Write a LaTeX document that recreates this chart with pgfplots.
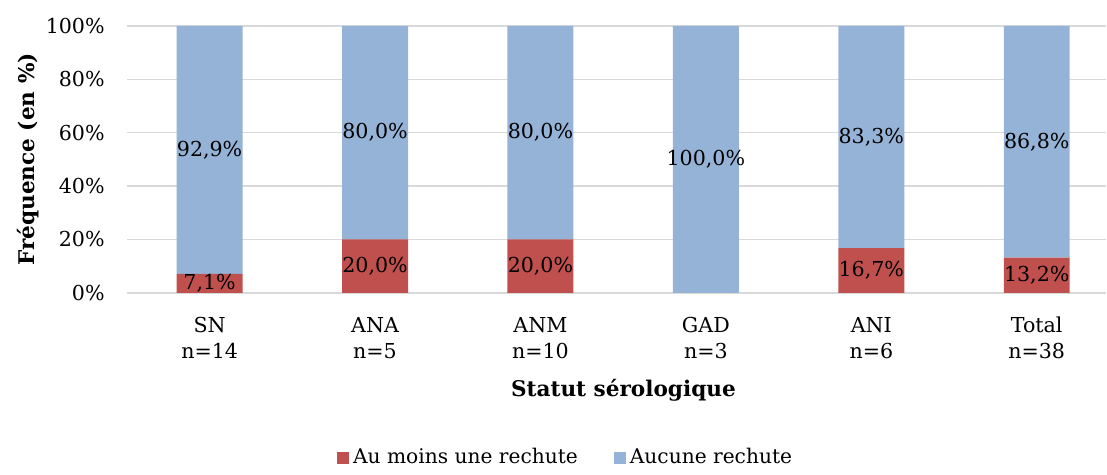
\documentclass[border=0pt]{standalone}
\usepackage{fontspec}
\setmainfont{DejaVu Serif}
\usepackage{pgfplots}
\pgfplotsset{compat=1.18}

\definecolor{redbar}{RGB}{192,80,77}
\definecolor{bluebar}{RGB}{149,179,215}
\definecolor{gridgray}{RGB}{217,217,217}

\begin{document}
\fontsize{10.3}{13}\selectfont
\begin{tikzpicture}
\begin{axis}[
  width=490pt, height=133.5pt, scale only axis,
  ybar stacked, bar width=33pt,
  xmin=-0.5, xmax=5.42, ymin=0, ymax=100,
  xtick={0,1,2,3,4,5},
  xticklabels={{SN\\n=14},{ANA\\n=5},{ANM\\n=10},{GAD\\n=3},{ANI\\n=6},{Total\\n=38}},
  xticklabel style={align=center, yshift=-8.5pt},
  ytick={0,20,40,60,80,100},
  yticklabel={\pgfmathprintnumber{\tick}\%},
  yticklabel style={xshift=-7.5pt},
  /pgf/number format/assume math mode=true,
  ymajorgrids, grid style={gridgray, line width=0.8pt},
  axis line style={draw=none},
  tick style={draw=none},
  xlabel={\bfseries Statut sérologique},
  every axis x label/.style={at={(rel axis cs:0.507,0)}, yshift=-49pt, anchor=center,
    font=\fontsize{10.8}{13}\selectfont},
  ylabel={\bfseries Fréquence (en \%)},
  every axis y label/.style={at={(rel axis cs:0,0.5)}, xshift=-49.5pt, rotate=90, anchor=center,
    font=\fontsize{10.8}{13}\selectfont},
  legend style={at={(rel axis cs:0.449,-0.618)}, anchor=center, draw=none, fill=none,
    legend columns=2, /tikz/every even column/.append style={column sep=16pt},
    font=\fontsize{10.1}{13}\selectfont},
  legend image code/.code={\fill[#1] (-3.5pt,-3pt) rectangle (2.5pt,3pt);},
  nodes near coords={\pgfmathfloatifflags{\pgfplotspointmeta}{0}{}{\pgfmathprintnumber[fixed,fixed zerofill,precision=1,use comma]{\pgfplotspointmeta}\%}},
  every node near coord/.append style={text=black, inner sep=0pt},
  clip=false,
]
\addplot[fill=redbar, draw=none] coordinates {(0,7.1) (1,20) (2,20) (3,0) (4,16.7) (5,13.2)};
\addlegendentry{Au moins une rechute}
\addplot[fill=bluebar, draw=none] coordinates {(0,92.9) (1,80) (2,80) (3,100) (4,83.3) (5,86.8)};
\addlegendentry{Aucune rechute}

\coordinate (ll) at (rel axis cs:0,0);
\coordinate (ur) at (rel axis cs:1,1);
\end{axis}
\path ([shift={(-63.5pt,-87.5pt)}]ll) rectangle ([shift={(0pt,13pt)}]ur);
\end{tikzpicture}
\end{document}
